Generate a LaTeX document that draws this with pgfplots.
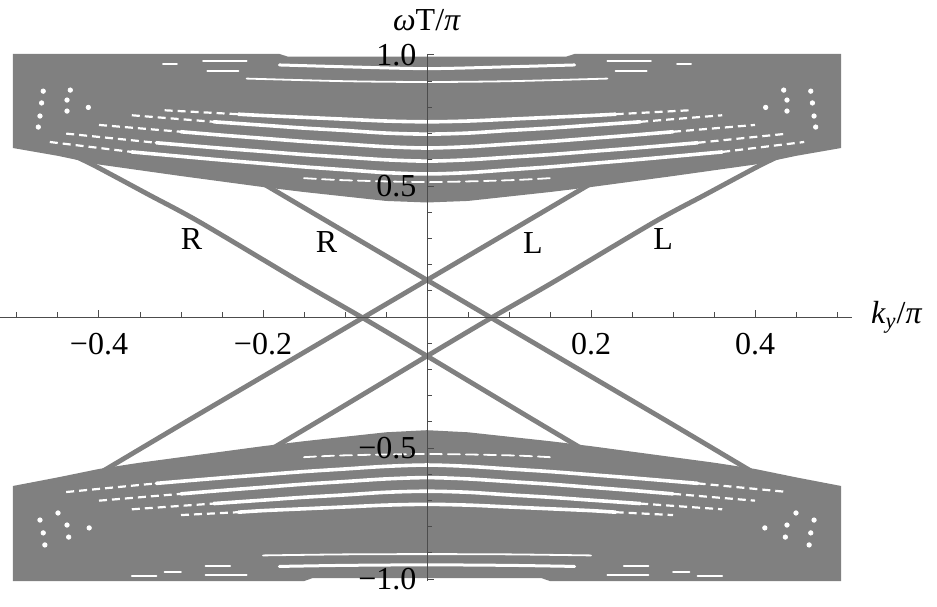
\documentclass[border=0pt]{standalone}
\usepackage{pgfplots}
\pgfplotsset{compat=1.18}
\usepackage{fontspec}
\setmainfont{Liberation Serif}
\definecolor{bandgray}{gray}{0.5}
\begin{document}
\begin{tikzpicture}
\begin{axis}[
  x=410pt, y=131pt,
  xmin=-0.521, xmax=0.518, ymin=-1.008, ymax=1.0,
  axis lines=middle,
  axis line style={-, draw=black!70, line width=0.5pt},
  clip=false, axis on top,
  tick align=center,
  xtick={-0.4,-0.2,0.2,0.4},
  xticklabels={−0.4,−0.2,0.2,0.4},
  minor xtick={-0.5,-0.45,-0.35,-0.3,-0.25,-0.15,-0.1,-0.05,0.05,0.1,0.15,0.25,0.3,0.35,0.45,0.5},
  ytick={-1,-0.5,0.5,1},
  yticklabels={−1.0,−0.5,0.5,1.0},
  minor ytick={-0.9,-0.8,-0.7,-0.6,-0.4,-0.3,-0.2,-0.1,0.1,0.2,0.3,0.4,0.6,0.7,0.8,0.9},
  major tick length=3.6pt, minor tick length=2.4pt,
  every tick/.style={draw=black!70, line width=0.5pt},
  every major x tick/.append style={yshift=1.8pt},
  every minor x tick/.append style={yshift=1.2pt},
  every major y tick/.append style={xshift=1.8pt},
  every minor y tick/.append style={xshift=1.2pt},
  tick label style={font=\fontsize{16}{19}\selectfont},
  xticklabel style={yshift=-3pt},
  stripe/.style={white, line width=1.8pt, line cap=round, smooth},
  thinstripe/.style={white, line width=0.9pt, line cap=round, smooth},
  dstripe/.style={white, line width=1.1pt, dash pattern=on 4pt off 2.5pt, smooth},
  edge/.style={bandgray, line width=2.4pt, smooth},
  dots/.style={only marks, mark=*, mark size=1.1pt, white},
]
% ---- bands
\addplot[fill=bandgray, draw=none] coordinates {
(-0.505,0.645) (-0.45,0.615) (-0.40,0.582) (-0.35,0.560) (-0.30,0.538) (-0.25,0.517) (-0.20,0.496) (-0.15,0.477) (-0.10,0.460) (-0.05,0.443) (0,0.437) (0.05,0.443) (0.10,0.460) (0.15,0.477) (0.20,0.496) (0.25,0.517) (0.30,0.538) (0.35,0.560) (0.40,0.582) (0.45,0.615) (0.505,0.645) (0.505,1.004) (0.18,1.004) (0.17,0.994) (-0.17,0.994) (-0.18,1.004) (-0.505,1.004)} -- cycle;
\addplot[fill=bandgray, draw=none] coordinates {
(-0.505,-0.645) (-0.45,-0.612) (-0.40,-0.580) (-0.35,-0.556) (-0.30,-0.535) (-0.25,-0.514) (-0.20,-0.493) (-0.15,-0.474) (-0.10,-0.457) (-0.05,-0.440) (0,-0.432) (0.05,-0.440) (0.10,-0.457) (0.15,-0.474) (0.20,-0.493) (0.25,-0.514) (0.30,-0.535) (0.35,-0.556) (0.40,-0.580) (0.45,-0.612) (0.505,-0.645) (0.505,-1.008) (0.15,-1.008) (0.14,-0.997) (-0.14,-0.997) (-0.15,-1.008) (-0.505,-1.008)} -- cycle;
% ---- upper band stripes
\addplot[stripe] coordinates {(-0.23,0.774) (-0.2,0.769) (-0.15,0.762) (-0.1,0.755) (-0.05,0.748) (0,0.745) (0.05,0.748) (0.1,0.755) (0.15,0.762) (0.2,0.769) (0.23,0.774)};
\addplot[stripe] coordinates {(-0.26,0.745) (-0.2,0.732) (-0.15,0.721) (-0.1,0.712) (-0.05,0.702) (0,0.698) (0.05,0.702) (0.1,0.712) (0.15,0.721) (0.2,0.732) (0.26,0.745)};
\addplot[stripe] coordinates {(-0.3,0.707) (-0.25,0.694) (-0.2,0.682) (-0.15,0.670) (-0.1,0.660) (-0.05,0.650) (0,0.645) (0.05,0.650) (0.1,0.660) (0.15,0.670) (0.2,0.682) (0.25,0.694) (0.3,0.707)};
\addplot[stripe] coordinates {(-0.33,0.665) (-0.3,0.657) (-0.25,0.644) (-0.2,0.632) (-0.15,0.620) (-0.1,0.610) (-0.05,0.600) (0,0.595) (0.05,0.600) (0.1,0.610) (0.15,0.620) (0.2,0.632) (0.25,0.644) (0.3,0.657) (0.33,0.665)};
\addplot[stripe] coordinates {(-0.36,0.630) (-0.3,0.613) (-0.25,0.599) (-0.2,0.586) (-0.15,0.573) (-0.1,0.562) (-0.05,0.551) (0,0.546) (0.05,0.551) (0.1,0.562) (0.15,0.573) (0.2,0.586) (0.25,0.599) (0.3,0.613) (0.36,0.630)};
\addplot[dstripe] coordinates {(-0.32,0.789) (-0.23,0.774)};
\addplot[dstripe] coordinates {(0.23,0.774) (0.32,0.789)};
\addplot[dstripe] coordinates {(-0.36,0.770) (-0.26,0.745)};
\addplot[dstripe] coordinates {(0.26,0.745) (0.36,0.770)};
\addplot[dstripe] coordinates {(-0.40,0.733) (-0.3,0.707)};
\addplot[dstripe] coordinates {(0.3,0.707) (0.40,0.733)};
\addplot[dstripe] coordinates {(-0.44,0.700) (-0.33,0.665)};
\addplot[dstripe] coordinates {(0.33,0.665) (0.44,0.700)};
\addplot[dstripe] coordinates {(-0.46,0.668) (-0.36,0.630)};
\addplot[dstripe] coordinates {(0.36,0.630) (0.46,0.668)};
\addplot[thinstripe, dash pattern=on 6pt off 3pt] coordinates {(-0.15,0.530) (-0.1,0.522) (0,0.515) (0.1,0.522) (0.15,0.530)};
\addplot[thinstripe] coordinates {(-0.22,0.910) (-0.1,0.900) (0,0.897) (0.1,0.900) (0.22,0.910)};
\addplot[white, line width=1.5pt, line cap=round, smooth] coordinates {(-0.18,0.962) (-0.1,0.955) (0,0.948) (0.1,0.955) (0.18,0.962)};
\addplot[thinstripe] coordinates {(-0.322,0.966) (-0.305,0.966)};
\addplot[thinstripe] coordinates {(0.305,0.966) (0.322,0.966)};
\addplot[thinstripe] coordinates {(-0.273,0.978) (-0.22,0.978)};
\addplot[thinstripe] coordinates {(0.22,0.978) (0.273,0.978)};
\addplot[thinstripe] coordinates {(-0.268,0.940) (-0.23,0.940)};
\addplot[thinstripe] coordinates {(0.23,0.940) (0.268,0.940)};
% ---- lower band stripes
\addplot[stripe] coordinates {(-0.23,-0.745) (-0.2,-0.739) (-0.15,-0.732) (-0.1,-0.725) (-0.05,-0.718) (0,-0.715) (0.05,-0.718) (0.1,-0.725) (0.15,-0.732) (0.2,-0.739) (0.23,-0.745)};
\addplot[stripe] coordinates {(-0.26,-0.712) (-0.2,-0.699) (-0.15,-0.688) (-0.1,-0.679) (-0.05,-0.669) (0,-0.665) (0.05,-0.669) (0.1,-0.679) (0.15,-0.688) (0.2,-0.699) (0.26,-0.712)};
\addplot[stripe] coordinates {(-0.3,-0.675) (-0.25,-0.662) (-0.2,-0.650) (-0.15,-0.638) (-0.1,-0.628) (-0.05,-0.618) (0,-0.613) (0.05,-0.618) (0.1,-0.628) (0.15,-0.638) (0.2,-0.650) (0.25,-0.662) (0.3,-0.675)};
\addplot[stripe] coordinates {(-0.33,-0.635) (-0.3,-0.627) (-0.25,-0.614) (-0.2,-0.602) (-0.15,-0.590) (-0.1,-0.580) (-0.05,-0.570) (0,-0.565) (0.05,-0.570) (0.1,-0.580) (0.15,-0.590) (0.2,-0.602) (0.25,-0.614) (0.3,-0.627) (0.33,-0.635)};
\addplot[dstripe] coordinates {(-0.30,-0.756) (-0.23,-0.745)};
\addplot[dstripe] coordinates {(0.23,-0.745) (0.30,-0.756)};
\addplot[dstripe] coordinates {(-0.36,-0.734) (-0.26,-0.712)};
\addplot[dstripe] coordinates {(0.26,-0.712) (0.36,-0.734)};
\addplot[dstripe] coordinates {(-0.40,-0.701) (-0.3,-0.675)};
\addplot[dstripe] coordinates {(0.3,-0.675) (0.40,-0.701)};
\addplot[dstripe] coordinates {(-0.44,-0.668) (-0.33,-0.635)};
\addplot[dstripe] coordinates {(0.33,-0.635) (0.44,-0.668)};
\addplot[thinstripe, dash pattern=on 6pt off 3pt] coordinates {(-0.15,-0.535) (-0.1,-0.528) (0,-0.523) (0.1,-0.528) (0.15,-0.535)};
\addplot[thinstripe] coordinates {(-0.2,-0.910) (-0.1,-0.906) (0,-0.905) (0.1,-0.906) (0.2,-0.910)};
\addplot[white, line width=1.5pt, line cap=round, smooth] coordinates {(-0.18,-0.952) (-0.1,-0.948) (0,-0.946) (0.1,-0.948) (0.18,-0.952)};
\addplot[thinstripe] coordinates {(-0.36,-0.990) (-0.33,-0.990)};
\addplot[thinstripe] coordinates {(0.33,-0.990) (0.36,-0.990)};
\addplot[thinstripe] coordinates {(-0.32,-0.972) (-0.30,-0.972)};
\addplot[thinstripe] coordinates {(0.30,-0.972) (0.32,-0.972)};
\addplot[thinstripe] coordinates {(-0.27,-0.985) (-0.22,-0.985)};
\addplot[thinstripe] coordinates {(0.22,-0.985) (0.27,-0.985)};
\addplot[thinstripe] coordinates {(-0.27,-0.950) (-0.24,-0.950)};
\addplot[thinstripe] coordinates {(0.24,-0.950) (0.27,-0.950)};
% ---- scalloped edges and lattice gaps
\addplot[dots, mark size=1.3pt] coordinates {(-0.512,0.893) (-0.512,0.840) (-0.512,0.790) (-0.512,0.740) (-0.512,0.687) (0.512,0.893) (0.512,0.840) (0.512,0.790) (0.512,0.740) (0.512,0.687)
(-0.512,-0.706) (-0.512,-0.756) (-0.512,-0.800) (-0.512,-0.851) (-0.512,-0.897) (0.512,-0.706) (0.512,-0.756) (0.512,-0.800) (0.512,-0.851) (0.512,-0.897)};
\addplot[dots] coordinates {(-0.468,0.862) (-0.470,0.817) (-0.472,0.767) (-0.439,0.786) (-0.439,0.828) (-0.413,0.800) (-0.435,0.866) (-0.474,0.725)
(0.468,0.862) (0.470,0.817) (0.472,0.767) (0.439,0.786) (0.439,0.828) (0.413,0.800) (0.435,0.866) (0.474,0.725)
(-0.472,-0.775) (-0.468,-0.824) (-0.466,-0.870) (-0.439,-0.794) (-0.437,-0.840) (-0.412,-0.805) (-0.450,-0.748)
(0.472,-0.775) (0.468,-0.824) (0.466,-0.870) (0.439,-0.794) (0.437,-0.840) (0.412,-0.805) (0.450,-0.748)};
% ---- edge states
\addplot[edge] coordinates {(-0.215,0.537) (-0.1,0.325) (0,0.141) (0.1,-0.043) (0.2,-0.227) (0.3,-0.411) (0.40,-0.597)};
\addplot[edge] coordinates {(0.215,0.537) (0.1,0.325) (0,0.141) (-0.1,-0.043) (-0.2,-0.227) (-0.3,-0.411) (-0.40,-0.597)};
\addplot[edge] coordinates {(-0.428,0.612) (-0.402,0.572) (-0.34,0.468) (-0.277,0.362) (-0.155,0.135) (-0.078,-0.004) (0,-0.149) (0.13,-0.393) (0.212,-0.545)};
\addplot[edge] coordinates {(0.428,0.612) (0.402,0.572) (0.34,0.468) (0.277,0.362) (0.155,0.135) (0.078,-0.004) (0,-0.149) (-0.13,-0.393) (-0.212,-0.545)};
% ---- labels
\node[font=\fontsize{16}{19}\selectfont] at (axis cs:-0.287,0.296) {R};
\node[font=\fontsize{16}{19}\selectfont] at (axis cs:-0.1226,0.286) {R};
\node[font=\fontsize{16}{19}\selectfont] at (axis cs:0.129,0.284) {L};
\node[font=\fontsize{16}{19}\selectfont] at (axis cs:0.288,0.296) {L};
\node[font=\fontsize{16}{19}\selectfont, anchor=base west, inner sep=0pt] at (axis cs:0.541,-0.023) {\textit{k}\textsubscript{\textit{y}}/\textit{π}};
\node[font=\fontsize{16}{19}\selectfont, anchor=base, inner sep=0pt] at (axis cs:0,1.095) {\textit{ω}T/\textit{π}};
\coordinate (O) at (axis cs:0,0);
\end{axis}
\pgfresetboundingbox
\path ([xshift=-213.5pt,yshift=158.5pt]O) rectangle ++(468.5pt,-303pt);
\end{tikzpicture}
\end{document}
